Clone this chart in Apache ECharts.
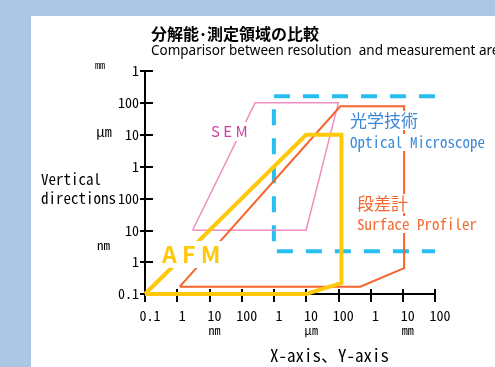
<!DOCTYPE html>
<html>
<head>
<meta charset="utf-8">
<script src="https://cdn.jsdelivr.net/npm/echarts@6/dist/echarts.min.js"></script>
<style>
  html, body { margin: 0; padding: 0; width: 495px; height: 367px; overflow: hidden; background: #aec6e6; }
  #panel { position: absolute; left: 31px; top: 16px; right: 0; bottom: 0; background: #ffffff; }
  #chart { position: absolute; left: 0; top: 0; width: 495px; height: 367px; }
</style>
</head>
<body>
<div id="panel"></div>
<div id="chart"></div>
<script>
// Tick labels along each log axis (values are in nm, one tick per decade)
const xTickLabels = ['0.1', '1', '10', '100', '1', '10', '100', '1', '10', '100'];
const xTickUnits = ['', '', 'nm', '', '', 'µm', '', '', 'mm', ''];
const yTickLabels = ['0.1', '1', '10', '100', '1', '10', '100', '1'];

// Measurement ranges, lateral size (x) vs vertical size (y), both in nm
const semX = [3, 10000, 100000, 260, 3];
const semY = [10, 10, 100000, 100000, 10];

const opticalX = [1e8, 1000, 1000, 1e8];
const opticalY = [160000, 160000, 2.2, 2.2];

const profilerX = [1.2, 115000, 11000000, 11000000, 480000, 1.2];
const profilerY = [0.17, 78000, 78000, 0.65, 0.17, 0.17];

const afmX = [0.1, 10000, 125000, 125000, 10000, 0.1];
const afmY = [0.1, 10000, 10000, 0.22, 0.1, 0.1];

const zip = (xs, ys) => xs.map((x, i) => [x, ys[i]]);
const decadeIndex = v => Math.round(Math.log10(v)) + 1;

const MONO = '"Noto Sans Mono CJK JP", "Noto Sans CJK JP", "DejaVu Sans Mono", monospace';
const SANS = '"Noto Sans CJK JP", "Noto Sans", sans-serif';

const GRID = { left: 145, right: 60, top: 71, bottom: 73 };

const xBase = {
  type: 'log', logBase: 10, min: 0.1, max: 1e8, splitNumber: 9,
  splitLine: { show: false }, minorTick: { show: false }
};
const yBase = {
  type: 'log', logBase: 10, min: 0.1, max: 1e6, splitNumber: 7,
  splitLine: { show: false }, minorTick: { show: false }
};

const chart = echarts.init(document.getElementById('chart'), null, { renderer: 'canvas' });

const lineSeries = (name, data, color, width, extra) => Object.assign({
  name, type: 'line', data, symbol: 'none', silent: true, animation: false,
  lineStyle: { color, width, join: 'miter' }, xAxisIndex: 0, yAxisIndex: 0
}, extra || {});

chart.setOption({
  animation: false,
  backgroundColor: 'transparent',
  title: {
    text: '分解能･測定領域の比較',
    subtext: 'Comparisor between resolution  and measurement area',
    left: 146, top: 21, itemGap: 2,
    textStyle: { fontFamily: SANS, fontSize: 16, fontWeight: 'bold', color: '#000' },
    subtextStyle: { fontFamily: '"Noto Sans", sans-serif', fontSize: 13.5, color: '#000' }
  },
  grid: [Object.assign({}, GRID), Object.assign({}, GRID)],
  xAxis: [
    Object.assign({}, xBase, {
      gridIndex: 0,
      axisLine: { lineStyle: { color: '#000', width: 2 } },
      axisTick: { length: 8, lineStyle: { color: '#000', width: 2 } },
      axisLabel: {
        margin: 8, color: '#000', fontFamily: MONO, fontSize: 14, lineHeight: 14,
        padding: [7, 0, 0, 10],
        formatter: v => {
          const i = decadeIndex(v);
          const u = xTickUnits[i];
          return u ? xTickLabels[i] + '\n{u|' + u + '}' : xTickLabels[i];
        },
        rich: { u: { fontFamily: MONO, fontSize: 12, color: '#000', lineHeight: 14 } }
      }
    }),
    Object.assign({}, xBase, {
      gridIndex: 1,
      axisLine: { show: false },
      axisTick: { inside: true, length: 5, lineStyle: { color: '#000', width: 2 } },
      axisLabel: { show: false }
    })
  ],
  yAxis: [
    Object.assign({}, yBase, {
      gridIndex: 0,
      axisLine: { lineStyle: { color: '#000', width: 2 } },
      axisTick: { length: 5, lineStyle: { color: '#000', width: 2 } },
      axisLabel: {
        margin: 6, color: '#000', fontFamily: MONO, fontSize: 14,
        formatter: v => yTickLabels[decadeIndex(v)]
      }
    }),
    Object.assign({}, yBase, {
      gridIndex: 1,
      axisLine: { show: false },
      axisTick: { inside: true, length: 8, lineStyle: { color: '#000', width: 2 } },
      axisLabel: { show: false }
    })
  ],
  series: [
    lineSeries('光学技術', zip(opticalX, opticalY), '#28bef0', 4, { lineStyle: { color: '#28bef0', width: 4, type: [16, 13] } }),
    lineSeries('SEM', zip(semX, semY), '#f08ec0', 1.5),
    lineSeries('段差計', zip(profilerX, profilerY), '#f5642a', 2),
    lineSeries('AFM', zip(afmX, afmY), '#ffc80a', 4)
  ],
  graphic: [
    { type: 'text', left: 95, top: 60, z: 50, style: { text: 'mm', font: '10px ' + MONO, fill: '#000' } },
    { type: 'text', left: 96, top: 125, z: 50, style: { text: 'µm', font: '14px ' + MONO, fill: '#000' } },
    { type: 'text', left: 97, top: 239, z: 50, style: { text: 'nm', font: '13px ' + MONO, fill: '#000' } },
    { type: 'text', left: 41, top: 172, z: 50, style: { text: 'Vertical', font: '15px ' + MONO, fill: '#000' } },
    { type: 'text', left: 41, top: 191, z: 50, style: { text: 'directions', font: '15px ' + MONO, fill: '#000' } },
    { type: 'text', left: 270, top: 347, z: 50, style: { text: 'X-axis、Y-axis', font: '17px ' + MONO, fill: '#000' } },
    { type: 'text', left: 210, top: 122, z: 50, style: { text: 'S E M', font: '15px ' + SANS, fill: '#cc44a0', backgroundColor: '#fff', padding: [2, 1] } },
    { type: 'text', left: 160, top: 241, z: 50, style: { text: 'A F M', font: 'bold 23px ' + SANS, fill: '#ffc80a', backgroundColor: '#fff', padding: [2, 2] } },
    { type: 'text', left: 349, top: 111, z: 50, style: { text: '光学技術', font: '17px ' + SANS, fill: '#3a88d8', backgroundColor: '#fff', padding: [1, 1] } },
    { type: 'text', left: 349, top: 134, z: 50, style: { text: 'Optical Microscope', font: '15px ' + MONO, fill: '#3a88d8', backgroundColor: '#fff', padding: [1, 1] } },
    { type: 'text', left: 356, top: 194, z: 50, style: { text: '段差計', font: '17px ' + SANS, fill: '#f06a30', backgroundColor: '#fff', padding: [1, 1] } },
    { type: 'text', left: 356, top: 216, z: 50, style: { text: 'Surface Profiler', font: '15px ' + MONO, fill: '#f06a30', backgroundColor: '#fff', padding: [1, 1] } }
  ]
});
</script>
</body>
</html>
